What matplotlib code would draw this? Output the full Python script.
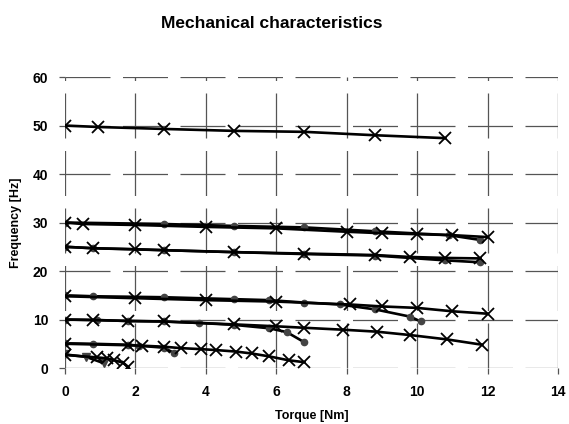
import matplotlib
matplotlib.use('Agg')
import matplotlib.pyplot as plt

plt.rcParams['font.family'] = ['Liberation Sans', 'DejaVu Sans']

# ── data (torque [Nm], frequency [Hz]) ───────────────────────────────────────
# "x" series = crosses, "o" series = dots
f50_x_T = [0, 0.95, 2.8, 4.8, 6.8, 8.8, 10.8]
f50_x_F = [50, 49.7, 49.3, 48.9, 48.7, 48.0, 47.4]

f30_x_T = [0, 0.5, 2, 4, 6, 8, 9, 10, 11, 12]
f30_x_F = [30, 29.7, 29.5, 29.1, 28.8, 28.1, 27.8, 27.6, 27.4, 27.0]
f30_o_T = [0, 2.8, 4.8, 6.8, 8.8, 10.9, 11.8]
f30_o_F = [30, 29.7, 29.3, 29.0, 28.2, 27.4, 26.4]

f25_x_T = [0, 0.8, 2, 2.8, 4.8, 6.8, 8.8, 9.8, 10.8, 11.8]
f25_x_F = [25, 24.7, 24.5, 24.3, 23.9, 23.6, 23.3, 22.9, 22.7, 22.6]
f25_o_T = [0, 0.8, 2.8, 4.8, 6.8, 8.8, 10.8, 11.8]
f25_o_F = [25, 24.7, 24.3, 23.9, 23.5, 23.2, 22.2, 21.8]

f15_x_T = [0, 2, 4, 6, 8.1, 9, 10, 11, 12]
f15_x_F = [14.8, 14.4, 14.0, 13.7, 13.1, 12.7, 12.4, 11.7, 11.2]
f15_o_T = [0, 0.8, 2.8, 4.8, 5.8, 6.8, 7.8, 8.8, 9.8, 10.1]
f15_o_F = [15, 14.8, 14.6, 14.2, 14.0, 13.5, 13.1, 12.1, 10.6, 9.6]

f10_x_T = [0, 0.8, 1.8, 2.8, 4.8, 6.0, 6.8, 7.9, 8.85, 9.8, 10.85, 11.85]
f10_x_F = [10, 9.9, 9.7, 9.6, 9.0, 8.6, 8.3, 7.9, 7.5, 6.8, 5.9, 4.8]
f10_o_T = [0, 0.9, 1.8, 2.8, 3.8, 4.8, 5.8, 6.3, 6.8]
f10_o_F = [10, 9.9, 9.7, 9.6, 9.3, 8.9, 8.2, 7.4, 5.3]

f5_x_T = [0, 1.8, 2.2, 2.8, 3.3, 3.85, 4.3, 4.85, 5.3, 5.8, 6.35, 6.8]
f5_x_F = [5, 4.7, 4.6, 4.4, 4.1, 3.9, 3.7, 3.4, 3.0, 2.4, 1.6, 1.2]
f5_o_T = [0, 0.8, 1.8, 2.1, 2.8, 3.1]
f5_o_F = [5.1, 5.0, 4.8, 4.6, 4.2, 3.1]

f2_x_T = [0, 0.9, 1.2, 1.4, 1.65, 1.8]
f2_x_F = [2.7, 2.2, 2.0, 1.6, 1.1, 0.2]
f2_o_T = [0, 0.6, 1.1]
f2_o_F = [2.8, 2.3, 1.0]

x_ticks = [0, 2, 4, 6, 8, 10, 12, 14]
y_ticks = [0, 10, 20, 30, 40, 50, 60]

dot_series = [(f30_o_T, f30_o_F), (f25_o_T, f25_o_F), (f15_o_T, f15_o_F),
              (f10_o_T, f10_o_F), (f5_o_T, f5_o_F)]
cross_series = [(f50_x_T, f50_x_F), (f30_x_T, f30_x_F), (f25_x_T, f25_x_F),
                (f15_x_T, f15_x_F), (f10_x_T, f10_x_F), (f5_x_T, f5_x_F),
                (f2_x_T, f2_x_F)]

# ── figure ───────────────────────────────────────────────────────────────────
fig = plt.figure(figsize=(5.69, 4.24), dpi=100)
fig.patch.set_facecolor('white')
ax = fig.add_axes([0.1142, 0.132, 0.8664, 0.6863])

GRID = '#555555'
ax.set_axisbelow(True)
ax.grid(True, color=GRID, linewidth=0.9, linestyle=(0, (36, 10)))
for s in ax.spines.values():
    s.set_visible(False)

for T, F in dot_series:
    ax.plot(T, F, color='black', lw=1.9, marker='o', ms=4.5,
            mfc='#444444', mec='#444444', zorder=3)
ax.plot(f2_o_T, f2_o_F, color='black', lw=1.9, marker='v', ms=6,
        mfc='#444444', mec='#444444', zorder=3)
for T, F in cross_series:
    ax.plot(T, F, color='black', lw=1.9, marker='x', ms=8, mew=1.3,
            mec='black', zorder=4)

ax.set_xlim(0, 14)
ax.set_ylim(0, 60)
ax.set_xticks(x_ticks)
ax.set_yticks(y_ticks)
ax.tick_params(direction='out', length=4, width=0.9, color=GRID,
               labelsize=10, pad=8)
for lab in ax.get_xticklabels() + ax.get_yticklabels():
    lab.set_fontweight('bold')

ax.set_xlabel('Torque [Nm]', fontsize=9, fontweight='bold', labelpad=8)
ax.set_ylabel('Frequency [Hz]', fontsize=9, fontweight='bold', labelpad=8)
fig.text(0.478, 0.945, 'Mechanical characteristics', ha='center', va='center',
         fontsize=12.5, fontweight='bold')

fig.savefig('out.png', dpi=100, facecolor='white')
